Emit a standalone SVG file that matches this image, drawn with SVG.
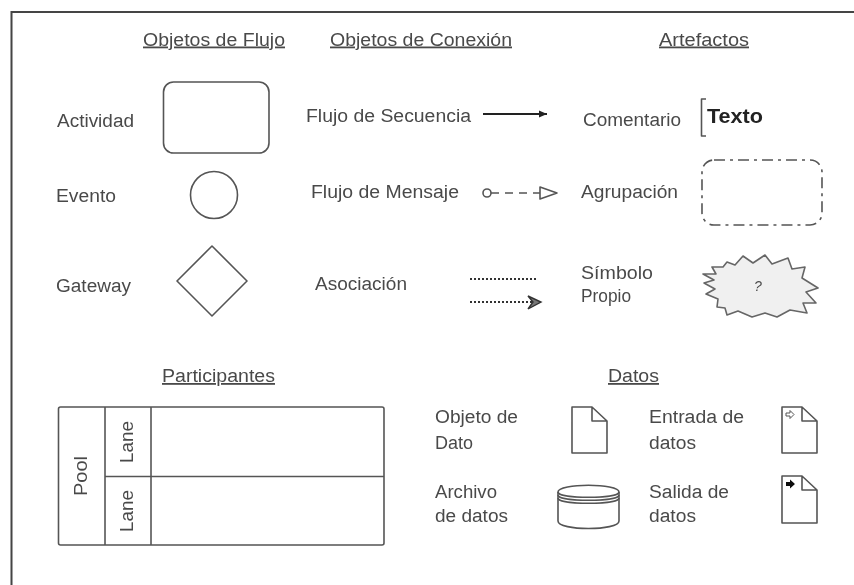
<svg xmlns="http://www.w3.org/2000/svg" width="854" height="585" viewBox="0 0 854 585">
<style>
text{font-family:"Liberation Sans",Arial,sans-serif;font-size:18px;fill:#4a4a4a}
.h{text-decoration:underline}
.s{fill:none;stroke:#555;stroke-width:1.6;stroke-linejoin:round}
.d{fill:#fff;stroke:#555;stroke-width:1.6;stroke-linejoin:round}
</style>
<defs>
<filter id="b" x="-5%" y="-5%" width="110%" height="110%"><feGaussianBlur stdDeviation="0.45"/></filter>
<marker id="solid" markerUnits="userSpaceOnUse" markerWidth="10" markerHeight="10" refX="8" refY="5" orient="auto"><path d="M0 1.500L8 5L0 8.500Z" fill="#222"/></marker>
</defs>
<rect width="854" height="585" fill="#fff"/>
<g filter="url(#b)">
<path id="frame" d="M854 12H11.500V585" fill="none" stroke="#444" stroke-width="2"/>
<g id="headings">
<text class="h" x="143" y="45.500" textLength="142" lengthAdjust="spacingAndGlyphs">Objetos de Flujo</text>
<text class="h" x="330" y="45.500" textLength="182" lengthAdjust="spacingAndGlyphs">Objetos de Conexión</text>
<text class="h" x="659" y="45.500" textLength="90" lengthAdjust="spacingAndGlyphs">Artefactos</text>
<text class="h" x="162" y="382" textLength="113" lengthAdjust="spacingAndGlyphs">Participantes</text>
<text class="h" x="608" y="382" textLength="51" lengthAdjust="spacingAndGlyphs">Datos</text>
</g>
<g id="actividad"><text x="57" y="126.500" textLength="77" lengthAdjust="spacingAndGlyphs">Actividad</text><rect class="s" x="163.500" y="82" width="105.500" height="71" rx="10"/></g>
<g id="evento"><text x="56" y="202" textLength="60" lengthAdjust="spacingAndGlyphs">Evento</text><circle class="s" cx="214" cy="195" r="23.500"/></g>
<g id="gateway"><text x="56" y="291.500" textLength="75" lengthAdjust="spacingAndGlyphs">Gateway</text><path class="s" d="M177 281L212 246L247 281L212 316Z"/></g>
<g id="flujo-secuencia"><text x="306" y="121.500" textLength="165" lengthAdjust="spacingAndGlyphs">Flujo de Secuencia</text></g>
<g id="flujo-mensaje"><text x="311" y="198" textLength="148" lengthAdjust="spacingAndGlyphs">Flujo de Mensaje</text></g>
<g id="asociacion"><text x="315" y="290" textLength="92" lengthAdjust="spacingAndGlyphs">Asociación</text></g>
<g id="connectors">
<line x1="483" y1="114" x2="547" y2="114" stroke="#222" stroke-width="1.800" marker-end="url(#solid)"/>
<circle class="s" cx="487" cy="193" r="4"/>
<line x1="491" y1="193" x2="540" y2="193" class="s" stroke-dasharray="8 6"/>
<path class="d" d="M540 187L557 193L540 199Z"/>
<line x1="470" y1="279" x2="538" y2="279" stroke="#333" stroke-width="2" stroke-dasharray="2 2"/>
<line x1="470" y1="302" x2="533" y2="302" stroke="#333" stroke-width="2" stroke-dasharray="2 2"/>
<path d="M528 296L541 302L528 309L533 302Z" fill="#777" stroke="#333" stroke-width="1.400"/>
</g>
<g id="comentario"><text x="583" y="126" textLength="98" lengthAdjust="spacingAndGlyphs">Comentario</text><path class="s" d="M706 99H701.500V136H706"/><text x="707" y="123" font-weight="700" textLength="56" lengthAdjust="spacingAndGlyphs" style="font-size:20px;fill:#222">Texto</text></g>
<g id="agrupacion"><text x="581" y="198" textLength="97" lengthAdjust="spacingAndGlyphs">Agrupación</text><rect class="s" x="702" y="160" width="120" height="65" rx="12" stroke-dasharray="11 5 3 5"/></g>
<g id="simbolo"><text x="581" y="279" textLength="72" lengthAdjust="spacingAndGlyphs">Símbolo</text><text x="581" y="302" textLength="50" lengthAdjust="spacingAndGlyphs">Propio</text>
<path d="M703 274L716 274L712 267L723 267L727 262L735 265L743 256L753 263L765 255L772 264L788 258L792 269L805 267L802 278L818 288L806 292L816 303L803 303L807 313L790 310L777 317L765 313L752 317L738 311L727 315L725 308L717 307L718 299L706 294L715 289L704 283L714 280Z" fill="#f0f0f0" stroke="#666" stroke-width="1.600" stroke-linejoin="round"/>
<text x="758" y="291" text-anchor="middle" style="font-size:14px;font-style:italic">?</text></g>
<g id="pool">
<rect class="s" x="58.500" y="407" width="325.500" height="138" rx="2"/>
<line class="s" x1="105" y1="407" x2="105" y2="545"/>
<line class="s" x1="151" y1="407" x2="151" y2="545"/>
<line class="s" x1="105" y1="476.500" x2="384" y2="476.500"/>
<text transform="translate(87,496) rotate(-90)" textLength="40" lengthAdjust="spacingAndGlyphs">Pool</text>
<text transform="translate(133,463) rotate(-90)" textLength="42" lengthAdjust="spacingAndGlyphs">Lane</text>
<text transform="translate(133,532) rotate(-90)" textLength="42" lengthAdjust="spacingAndGlyphs">Lane</text>
</g>
<g id="objeto-dato"><text x="435" y="423" textLength="83" lengthAdjust="spacingAndGlyphs">Objeto de</text><text x="435" y="449" textLength="38" lengthAdjust="spacingAndGlyphs">Dato</text><path class="s" d="M572 407H592L607 421V453H572Z M592 407V421H607"/></g>
<g id="entrada-datos"><text x="649" y="423" textLength="95" lengthAdjust="spacingAndGlyphs">Entrada de</text><text x="649" y="449" textLength="47" lengthAdjust="spacingAndGlyphs">datos</text><path class="s" d="M782 407H802L817 421V453H782Z M802 407V421H817"/><path d="M786 413H790V410.500L794 414.500L790 418.500V416H786Z" fill="#fff" stroke="#555" stroke-width="1"/></g>
<g id="archivo-datos"><text x="435" y="498" textLength="62" lengthAdjust="spacingAndGlyphs">Archivo</text><text x="435" y="522" textLength="73" lengthAdjust="spacingAndGlyphs">de datos</text><path class="d" d="M558 492C558 483 619 483 619 492V521C619 531 558 531 558 521Z"/><path class="s" d="M558 492C558 499 619 499 619 492M558 495C558 502 619 502 619 495M558 498C558 505 619 505 619 498"/></g>
<g id="salida-datos"><text x="649" y="498" textLength="80" lengthAdjust="spacingAndGlyphs">Salida de</text><text x="649" y="522" textLength="47" lengthAdjust="spacingAndGlyphs">datos</text><path class="s" d="M782 476H802L817 490V523H782Z M802 476V490H817"/><path d="M786 482H790V479.500L795 484L790 488.500V486H786Z" fill="#111"/></g>
</g>
</svg>
